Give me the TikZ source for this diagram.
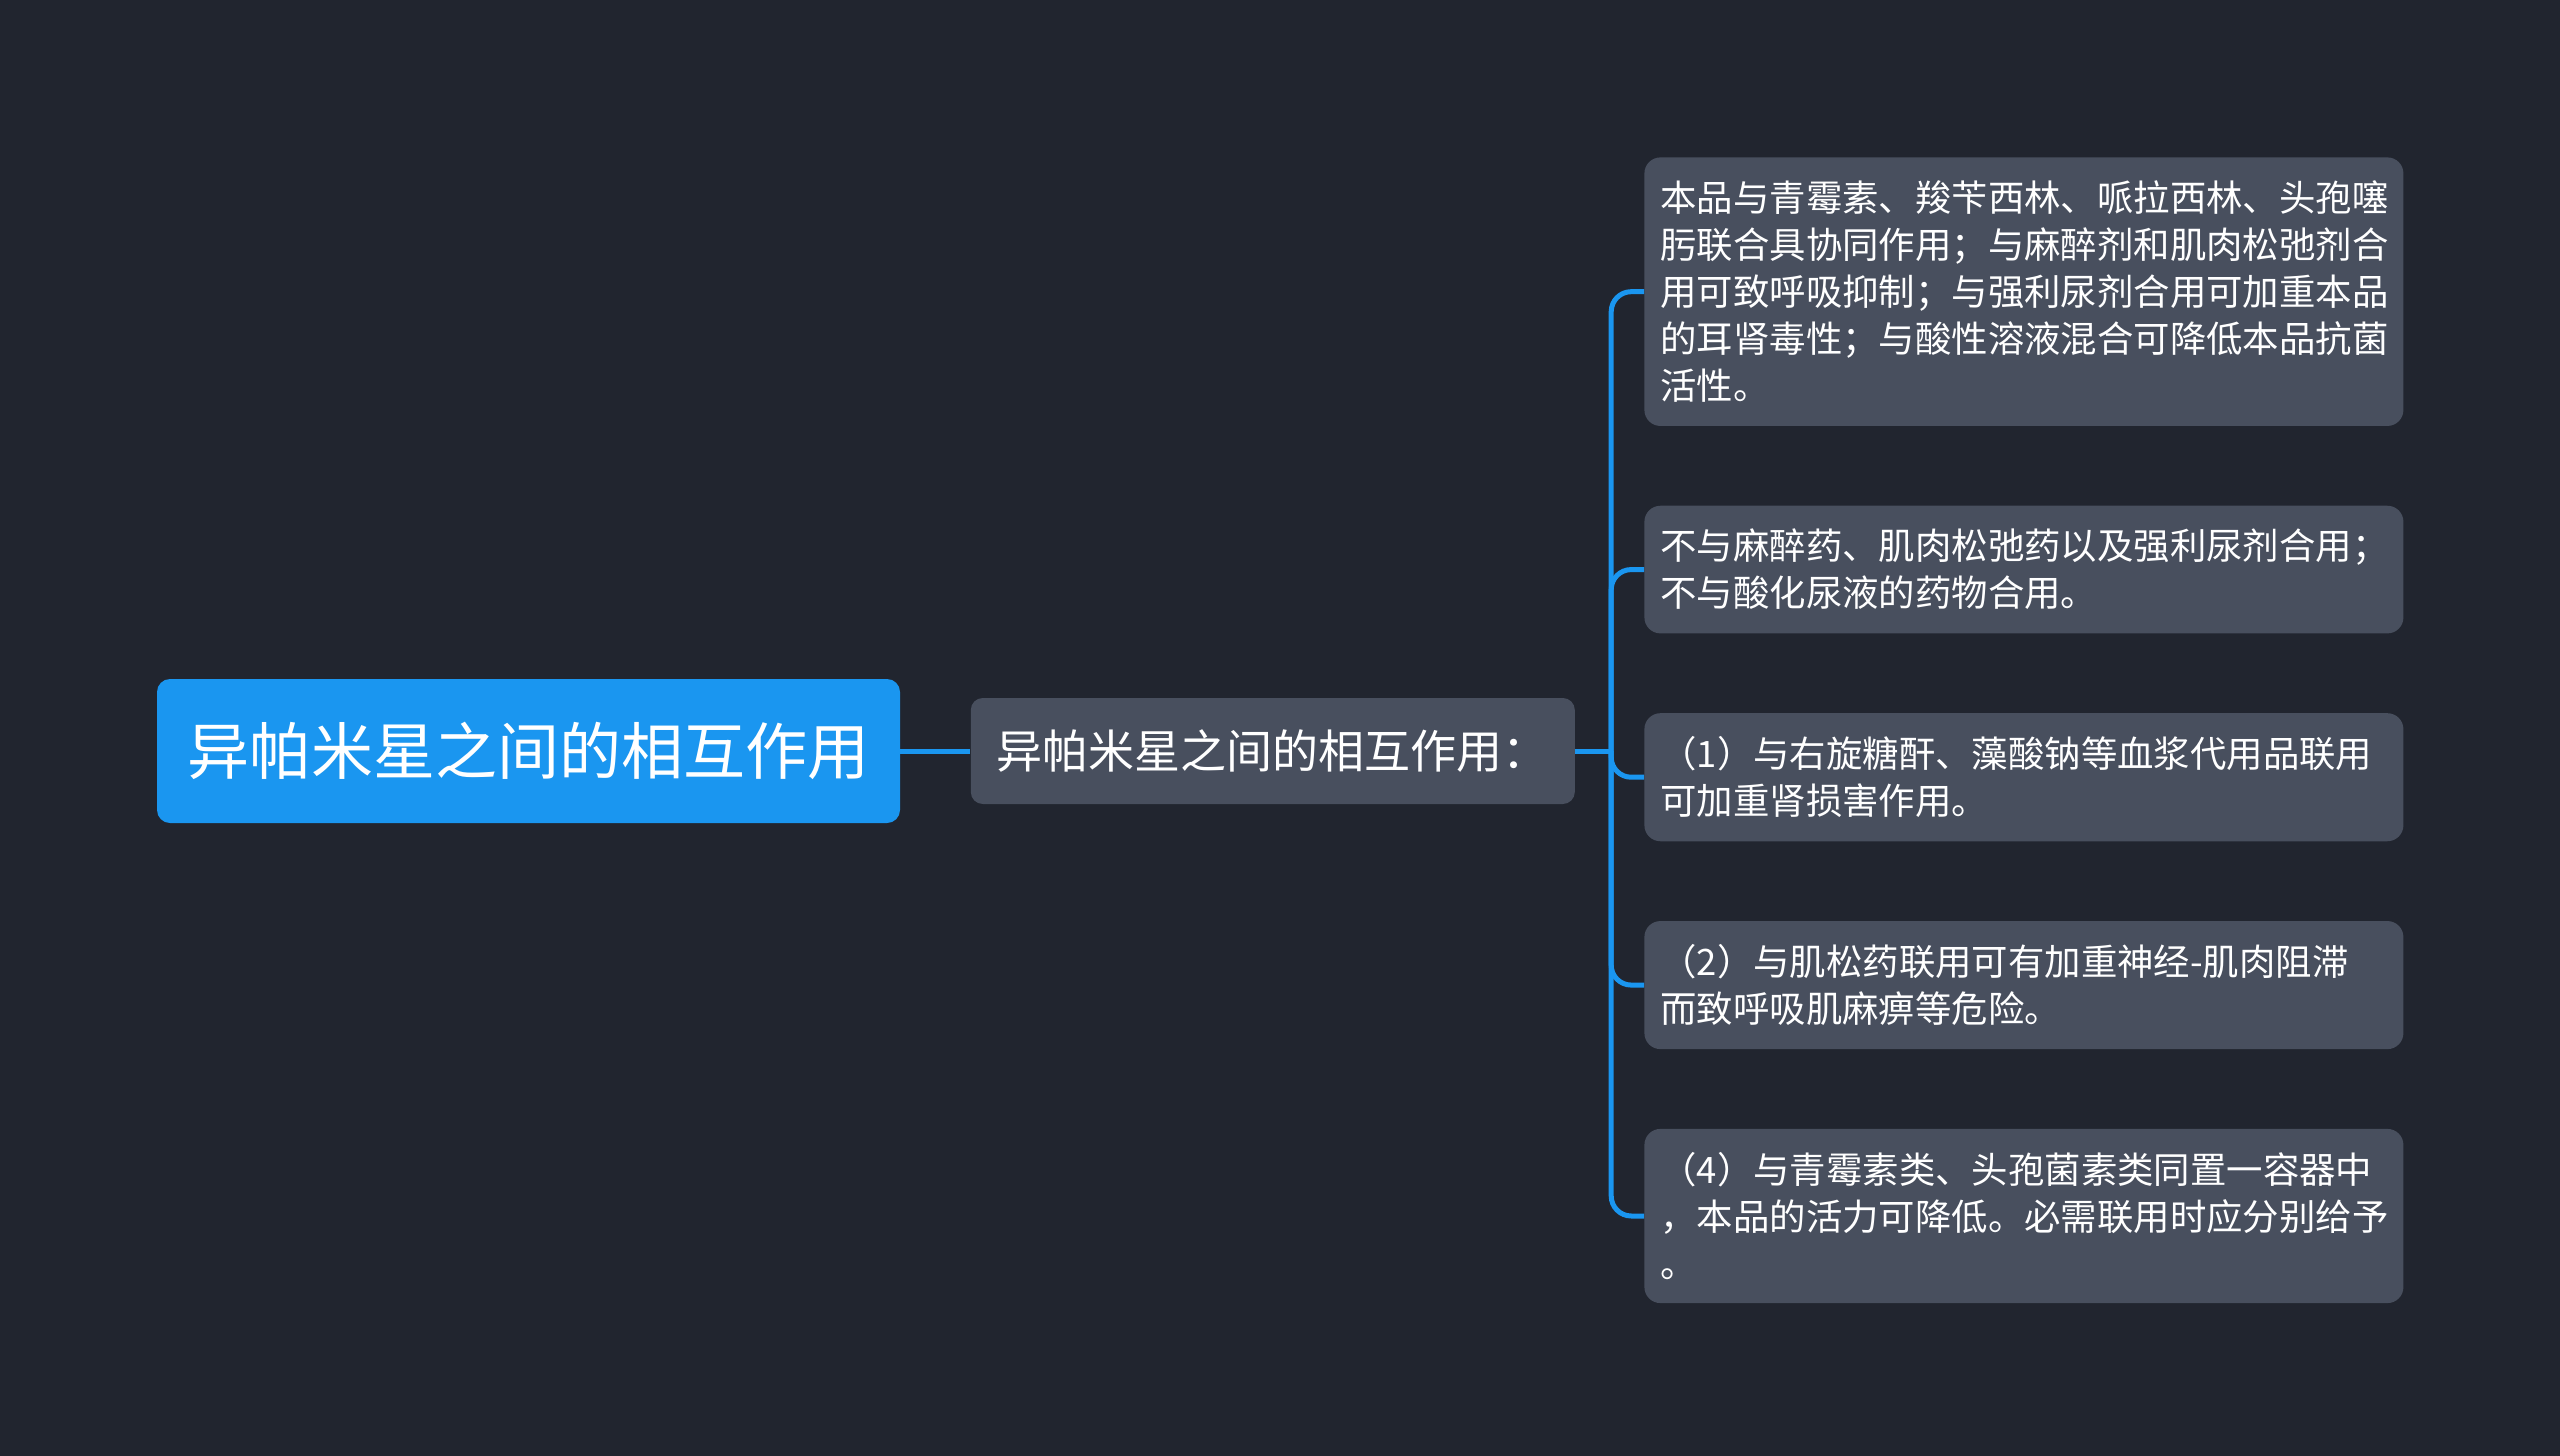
\documentclass[tikz,border=0pt]{standalone}
\usepackage{fontspec}
\setmainfont{Noto Sans CJK SC}
\usetikzlibrary{positioning}
\definecolor{bgcol}{HTML}{21252F}
\definecolor{rootblue}{HTML}{1A96F0}
\definecolor{leafgray}{HTML}{484F5E}

\begin{document}
\begin{tikzpicture}[node distance=39.5pt,
  root/.style={fill=rootblue,text=white,rounded corners=6.5pt,minimum width=371.5pt,minimum height=72pt,font=\fontsize{31pt}{37pt}\selectfont},
  topic/.style={fill=leafgray,text=white,rounded corners=6pt,minimum width=302pt,minimum height=53pt,font=\fontsize{23pt}{27pt}\selectfont},
  leaf/.style={fill=leafgray,text=white,rounded corners=8pt,text width=363.5pt,inner xsep=8pt,inner ysep=11.7pt,align=left,font=\fontsize{18.2pt}{23.5pt}\selectfont},
  link/.style={draw=rootblue,line width=2.5pt}]
  \useasboundingbox (0,0) rectangle (1280pt,-728pt);
  \fill[bgcol] (0,0) rectangle (1280pt,-728pt);
  \node[root]  (r_0) at (264.25pt,-375.5pt) {异帕米星之间的相互作用};
  \node[topic] (t_1) [right=35pt of r_0]    {异帕米星之间的相互作用：};
  \node[leaf,anchor=north west] (l_1) at (822pt,-78.5pt)
    {本品与青霉素、羧苄西林、哌拉西林、头孢噻\\肟联合具协同作用；与麻醉剂和肌肉松弛剂合\\用可致呼吸抑制；与强利尿剂合用可加重本品\\的耳肾毒性；与酸性溶液混合可降低本品抗菌\\活性。};
  \node[leaf] (l_2) [below=of l_1] {不与麻醉药、肌肉松弛药以及强利尿剂合用；\\不与酸化尿液的药物合用。};
  \node[leaf] (l_3) [below=of l_2] {（1）与右旋糖酐、藻酸钠等血浆代用品联用\\可加重肾损害作用。};
  \node[leaf] (l_4) [below=of l_3] {（2）与肌松药联用可有加重神经-肌肉阻滞\\而致呼吸肌麻痹等危险。};
  \node[leaf] (l_5) [below=of l_4] {（4）与青霉素类、头孢菌素类同置一容器中\\，本品的活力可降低。必需联用时应分别给予\\。};
  \path[link] (r_0) -- (t_1);
  \path[link] (t_1.east) -- ++(18pt,0) coordinate (hub);
  \foreach \n in {1,...,5}
    \path[link,rounded corners=10pt] (hub) |- (l_\n.west);
\end{tikzpicture}
\end{document}
